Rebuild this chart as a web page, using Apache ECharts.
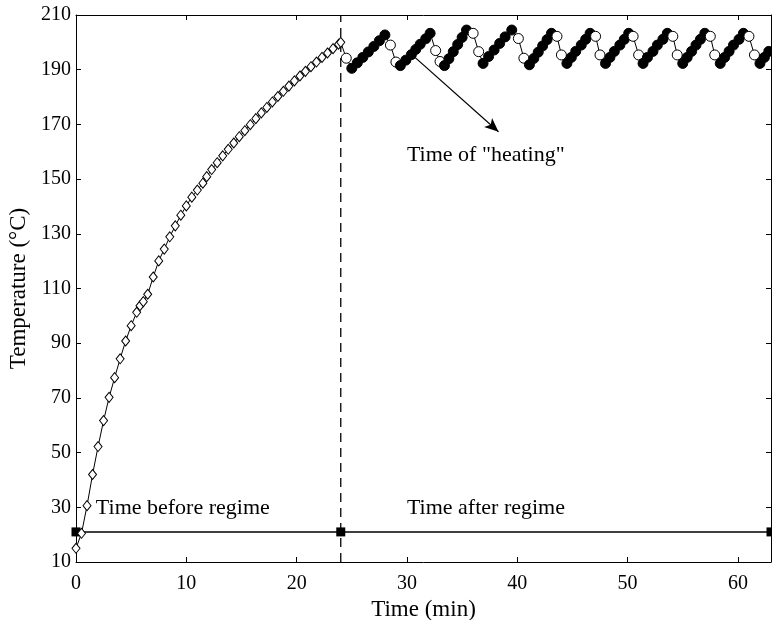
<!DOCTYPE html>
<html>
<head>
<meta charset="utf-8">
<script src="https://cdn.jsdelivr.net/npm/echarts@6/dist/echarts.min.js"></script>
<style>html,body{margin:0;padding:0;background:#fff}#c{width:772px;height:620px}</style>
</head>
<body>
<div id="c"></div>
<script>
// Heating up to regime (open diamonds)
const heatTime = [0,0.5,1.0,1.5,2.0,2.5,3.0,3.5,4.0,4.5,5.0,5.5,5.8,6.1,6.5,7.0,7.5,8.0,8.5,9.0,9.5,10.0,10.5,11.0,11.5,11.85,
  12.3,12.8,13.3,13.8,14.3,14.8,15.3,15.8,16.3,16.8,17.3,17.8,18.3,18.8,19.3,19.8,20.3,20.8,21.3,21.8,22.3,22.8,23.3,23.8,24.0];
const heatTemp = [15,20.5,30.6,42,52.2,61.7,70.2,77.4,84.3,90.8,96.4,101.3,103.7,105.2,107.9,114.2,120.1,124.4,128.9,132.9,136.8,140.2,143.4,146.0,148.5,150.9,
  153.5,156,158.5,160.9,163.2,165.5,167.7,169.9,172.1,174.2,176.2,178.2,180.2,182.1,184,185.9,187.7,189.4,191.1,192.8,194.5,196.1,197.7,199.3,200];
// Regime: 1 = heating on (filled circle), 0 = cooling (open circle)
const regimeTime = [24.5,25.0,25.5,26.0,26.5,27.0,27.5,28.0,28.5,29.0,
  29.4,29.9,30.4,30.8,31.2,31.7,32.1,32.6,33.0,
  33.4,33.8,34.2,34.6,35.0,35.4,36.0,36.5,
  36.9,37.4,37.9,38.4,38.9,39.5,40.1,40.6,
  41.1,41.5,41.9,42.3,42.7,43.1,43.6,44.0,
  44.5,44.9,45.3,45.8,46.2,46.6,47.1,47.5,
  48.0,48.4,48.8,49.3,49.7,50.1,50.5,51.0,
  51.4,51.8,52.3,52.7,53.2,53.6,54.1,54.5,
  55.0,55.4,55.8,56.2,56.6,57.0,57.5,57.9,
  58.4,58.8,59.2,59.6,60.1,60.5,61.0,61.5,
  62.0,62.4,62.8];
const regimeTemp = [194.2,190.5,192.5,194.5,196.5,198.5,200.6,202.7,199,192.8,
  191.5,193.5,195.5,197.4,199.3,201.3,203.3,197,193,
  191.5,194,196.6,199.2,201.8,204.5,203.3,196.6,
  192.3,194.8,197.2,199.6,202,204.5,201.4,194.2,
  191.8,194.1,196.4,198.7,201,203.3,202.2,195.4,
  192.3,194.5,196.7,199,201.1,203.3,202.2,195.4,
  192.3,194.5,196.7,199,201.1,203.3,202.2,195.4,
  192.3,194.5,196.7,199,201.1,203.3,202.2,195.4,
  192.3,194.5,196.7,199,201.1,203.3,202.2,195.4,
  192.3,194.5,196.7,199,201.1,203.3,202.2,195.4,
  192.3,194.5,196.7];
const regimeState = [0,1,1,1,1,1,1,1,0,0,
  1,1,1,1,1,1,1,0,0,
  1,1,1,1,1,1,0,0,
  1,1,1,1,1,1,0,0,
  1,1,1,1,1,1,0,0,
  1,1,1,1,1,1,0,0,
  1,1,1,1,1,1,0,0,
  1,1,1,1,1,1,0,0,
  1,1,1,1,1,1,0,0,
  1,1,1,1,1,1,0,0,
  1,1,1];
// Time-span line (squares)
const spanTime = [0,24,63];
const spanTemp = [21,21,21];
// Regime start (dashed line)
const regimeStart = 24;
const xTicks = [0,10,20,30,40,50,60];
const yTicks = [10,30,50,70,90,110,130,150,170,190,210];
const annotations = [
  {text:'Time before regime', t:1.8, T:29.7},
  {text:'Time after regime', t:30.0, T:29.7},
  {text:'Time of "heating"', t:30.0, T:158.7}
];
const arrowFrom = [30.7,194.6], arrowTo = [38.3,167.3];

const F = '"Liberation Serif","Times New Roman",serif';
const chart = echarts.init(document.getElementById('c'), null, {renderer:'canvas'});
const axisCommon = {
  axisLine:{show:true, onZero:false, lineStyle:{color:'#000', width:1}},
  axisTick:{show:true, inside:true, length:5, lineStyle:{color:'#000'}},
  splitLine:{show:false}
};
chart.setOption({
  animation:false,
  backgroundColor:'#fff',
  grid:{left:76, right:1, top:15, bottom:58, containLabel:false, outerBoundsMode:'none'},
  xAxis:[
    Object.assign({type:'value', min:0, max:63, interval:10, position:'bottom',
      name:'Time (min)', nameLocation:'middle', nameGap:33,
      nameTextStyle:{fontFamily:F, fontSize:23, color:'#000'},
      axisLabel:{fontFamily:F, fontSize:20, color:'#000', margin:12,
        formatter:v=> xTicks.includes(v) ? String(v) : ''}}, axisCommon),
    Object.assign({type:'value', min:0, max:63, interval:10, position:'top',
      axisLabel:{show:false}}, axisCommon)
  ],
  yAxis:[
    Object.assign({type:'value', min:10, max:210, interval:20, position:'left',
      name:'Temperature (°C)', nameLocation:'middle', nameGap:46,
      nameTextStyle:{fontFamily:F, fontSize:23, color:'#000'},
      axisLabel:{fontFamily:F, fontSize:20, color:'#000', margin:5,
        formatter:v=> yTicks.includes(v) ? String(v) : ''}}, axisCommon),
    Object.assign({type:'value', min:10, max:210, interval:20, position:'right',
      axisLabel:{show:false}}, axisCommon)
  ],
  series:[
    {type:'line', name:'span', data: spanTime.map((t,i)=>[t,spanTemp[i]]),
      symbol:'rect', symbolSize:9, itemStyle:{color:'#000'},
      lineStyle:{color:'#000', width:1.5}, z:2},
    {type:'line', name:'start', data:[[regimeStart,10],[regimeStart,210]],
      symbol:'none', lineStyle:{color:'#000', width:1.3, type:[9,6]}, z:1},
    {type:'line', name:'heat', showAllSymbol:true,
      data: heatTime.map((t,i)=>[t,heatTemp[i]]).concat([[regimeTime[0],regimeTemp[0]]]).map((d,i,a)=>
        i===a.length-1 ? {value:d, symbol:'none'} : {value:d}),
      symbol:'diamond', symbolSize:[8,10],
      itemStyle:{color:'#fff', borderColor:'#000', borderWidth:1},
      lineStyle:{color:'#000', width:1}, z:3},
    {type:'line', name:'regime', showAllSymbol:true,
      data: regimeTime.map((t,i)=>({value:[t,regimeTemp[i]],
        itemStyle: regimeState[i] ? {color:'#000', borderColor:'#000', borderWidth:1}
                                  : {color:'#fff', borderColor:'#000', borderWidth:1}})),
      symbol:'circle', symbolSize:10,
      lineStyle:{color:'#000', width:1}, z:4,
      markLine:{silent:true, symbol:['none','arrow'], symbolSize:[9,14],
        lineStyle:{color:'#000', width:1.2, type:'solid'}, label:{show:false},
        data:[[{coord:arrowFrom},{coord:arrowTo}]]}},
    {type:'scatter', name:'notes', symbolSize:0, itemStyle:{opacity:1},
      data: annotations.map(a=>[a.t,a.T,a.text]),
      label:{show:true, position:'right', distance:0, fontFamily:F, fontSize:22, color:'#000', opacity:1,
        formatter:p=>p.data[2]}, z:5}
  ]
});
</script>
</body>
</html>
